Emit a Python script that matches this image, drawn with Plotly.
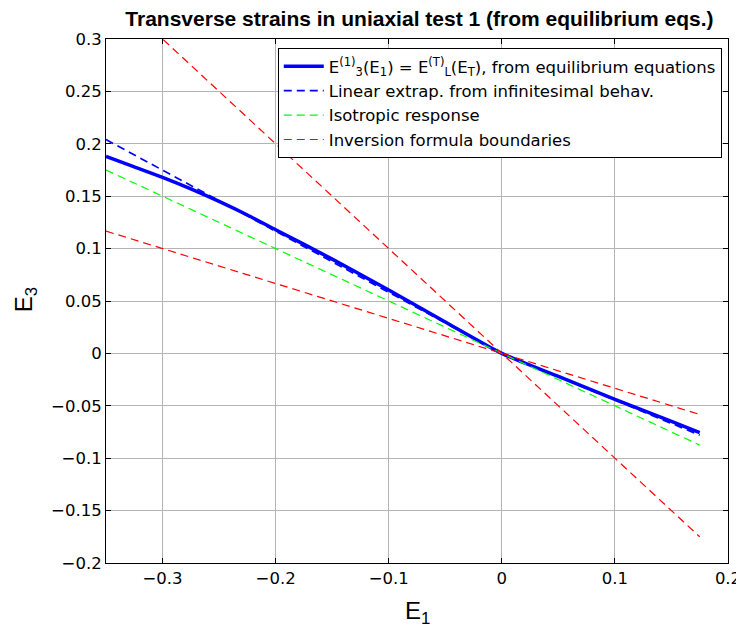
import plotly.graph_objects as go

# Data
e1_eq = [-0.35, -0.325, -0.3, -0.275, -0.25, -0.225, -0.2, -0.15, -0.1, -0.05, 0.0, 0.05, 0.1, 0.15, 0.175]
e3_eq = [0.188, 0.178, 0.168, 0.157, 0.145, 0.132, 0.118, 0.090, 0.0605, 0.030, 0.0, -0.022, -0.0438, -0.0648, -0.0755]

e1_lin = [-0.35, 0.0, 0.175]
e3_lin = [0.204, 0.0, -0.078]

e1_iso = [-0.35, 0.175]
e3_iso = [0.175, -0.0875]

e1_bnd_a = [-0.35, 0.175]
e3_bnd_a = [0.1167, -0.0583]
e1_bnd_b = [-0.35, 0.175]
e3_bnd_b = [0.35, -0.175]

x_ticks = [-0.3, -0.2, -0.1, 0, 0.1, 0.2]
x_ticklabels = ["\u22120.3", "\u22120.2", "\u22120.1", "0", "0.1", "0.2"]
y_ticks = [-0.2, -0.15, -0.1, -0.05, 0, 0.05, 0.1, 0.15, 0.2, 0.25, 0.3]
y_ticklabels = ["\u22120.2", "\u22120.15", "\u22120.1", "\u22120.05", "0", "0.05", "0.1", "0.15", "0.2", "0.25", "0.3"]

FONT = "Liberation Sans, Arial, Helvetica, sans-serif"
TFONT = "DejaVu Sans, sans-serif"
DASH = "8px,5px"

fig = go.Figure()
fig.add_trace(go.Scatter(
    x=e1_eq, y=e3_eq, mode="lines", line=dict(color="#0000ff", width=3.5, shape="spline", smoothing=0.6),
    name="E<sup>(1)</sup><sub>3</sub>(E<sub>1</sub>) = E<sup>(T)</sup><sub>L</sub>(E<sub>T</sub>), from equilibrium equations"))
fig.add_trace(go.Scatter(
    x=e1_lin, y=e3_lin, mode="lines", line=dict(color="#0000ff", width=1.7, dash=DASH),
    name="Linear extrap. from infinitesimal behav."))
fig.add_trace(go.Scatter(
    x=e1_iso, y=e3_iso, mode="lines", line=dict(color="#00ff00", width=1.2, dash=DASH),
    name="Isotropic response"))
fig.add_trace(go.Scatter(
    x=e1_bnd_a, y=e3_bnd_a, mode="lines", line=dict(color="#ff0000", width=1.2, dash=DASH),
    name="Inversion formula boundaries", legendgroup="bnd"))
fig.add_trace(go.Scatter(
    x=e1_bnd_b, y=e3_bnd_b, mode="lines", line=dict(color="#ff0000", width=1.2, dash=DASH),
    name="Inversion formula boundaries", legendgroup="bnd", showlegend=False))

axis_common = dict(
    showgrid=True, gridcolor="#b4b4b4", gridwidth=1,
    showline=True, linecolor="black", linewidth=1, mirror="ticks",
    ticks="inside", ticklen=5, tickcolor="black", automargin=False,
    zeroline=False, tickfont=dict(family=TFONT, size=16.5, color="black"),
)

fig.update_xaxes(range=[-0.35, 0.2], tickvals=x_ticks, ticktext=x_ticklabels, **axis_common)
fig.update_yaxes(range=[-0.2, 0.3], tickvals=y_ticks, ticktext=y_ticklabels, **axis_common)

fig.add_annotation(text="E<sub>1</sub>", xref="paper", yref="paper", x=0.5, y=-0.062,
                   xanchor="center", yanchor="top", showarrow=False,
                   font=dict(family=FONT, size=24, color="black"))
fig.add_annotation(text="E<sub>3</sub>", xref="paper", yref="paper", x=-0.128, y=0.502,
                   xanchor="center", yanchor="middle", showarrow=False, textangle=-90,
                   font=dict(family=FONT, size=24, color="black"))

# The page body has an 8px default margin, so the figure is sized to fit the window.
fig.update_layout(
    width=736, height=620,
    margin=dict(l=98, r=16, t=31, b=65),
    paper_bgcolor="white", plot_bgcolor="white",
    title=dict(text="<b>Transverse strains in uniaxial test 1 (from equilibrium eqs.)</b>",
               font=dict(family=FONT, size=21, color="black"),
               x=0.559, xanchor="center", y=0.995, yanchor="top", pad=dict(t=0, b=0)),
    legend=dict(x=0.990, xanchor="right", y=0.983, yanchor="top",
                bgcolor="white", bordercolor="black", borderwidth=1,
                font=dict(family=TFONT, size=16.5, color="black"),
                tracegroupgap=0, itemwidth=40),
    showlegend=True,
    hovermode=False,
)

fig.write_html("out.html")
